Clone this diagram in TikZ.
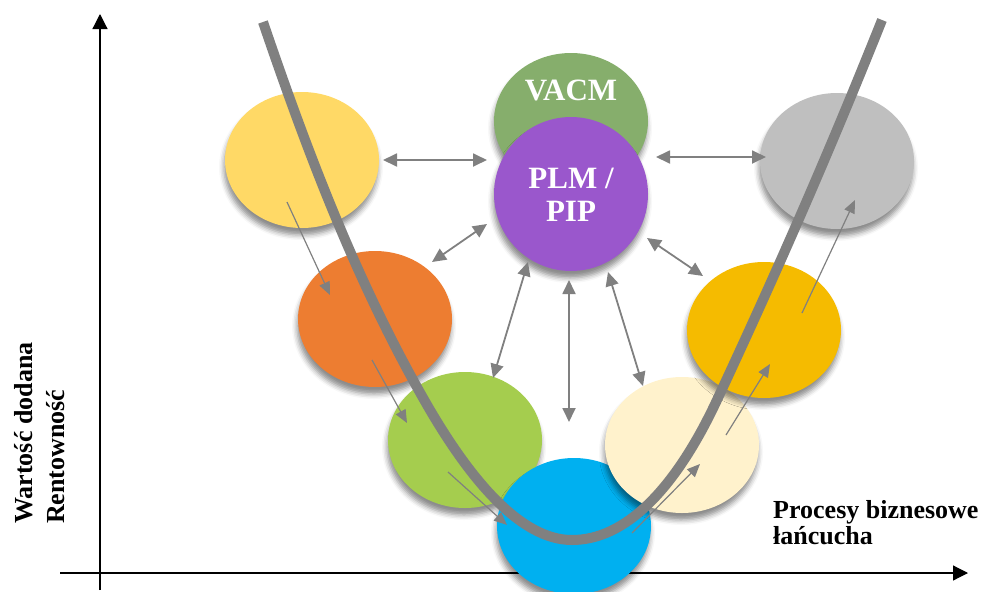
\documentclass[tikz,border=0pt]{standalone}
\usepackage{fontspec}
\setmainfont{Liberation Serif}
\usetikzlibrary{shapes.geometric,arrows.meta,shadows.blur}
\definecolor{cyel}{HTML}{FFD966}
\definecolor{corg}{HTML}{ED7D31}
\definecolor{cgrn}{HTML}{A5CD4E}
\definecolor{cblu}{HTML}{00B0F0}
\definecolor{ccrm}{HTML}{FFF2CC}
\definecolor{cgld}{HTML}{F5BB00}
\definecolor{cgry}{HTML}{BFBFBF}
\definecolor{cvac}{HTML}{86AE6C}
\definecolor{cplm}{HTML}{9A57CC}
\definecolor{cline}{HTML}{808080}
\tikzset{
  ell/.style={ellipse, inner sep=0pt, outer sep=0pt, minimum width=154pt, minimum height=136pt,
    blur shadow={shadow xshift=-1pt, shadow yshift=-7pt, shadow blur radius=5pt, shadow opacity=45}},
  thinarr/.style={draw=cline, line width=1.2pt, -{Triangle[length=13pt,width=11pt]}},
  dblarr/.style={draw=cline, line width=1.8pt, {Triangle[length=14pt,width=13pt]}-{Triangle[length=14pt,width=13pt]}},
  curve/.style={draw=cline, line width=10pt},
  axis/.style={draw=black, line width=1.2pt, -{Triangle[length=15pt,width=15pt]}},
  wlab/.style={text=white, font=\bfseries\fontsize{31}{36}\selectfont, align=center},
  alab/.style={font=\bfseries\fontsize{26}{26}\selectfont, align=left}
}
\begin{document}
\begin{tikzpicture}[x=1pt,y=-1pt]
\useasboundingbox (0,0) rectangle (989,592);
% axes
\coordinate (ybot) at (100,590);
\coordinate (ytop) at (100,14);
\coordinate (xl) at (60,573);
\coordinate (xr) at (968,573);
\draw[axis] (ybot) -- (ytop);
\draw[axis] (xl) -- (xr);
% ellipses
\node[ell, fill=cyel] (yel) at (302,160) {};
\node[ell, fill=corg] (org) at (375,319) {};
\node[ell, fill=cgrn] (grn) at (465,440) {};
\node[ell, fill=cblu] (blu) at (574,526) {};
\node[ell, fill=ccrm] (crm) at (682,445) {};
\node[ell, fill=cgld] (gld) at (764,330) {};
\node[ell, fill=cgry] (gry) at (837,161) {};
\node[ell, fill=cvac] (vac) at (571,121) {};
\node[ell, fill=cplm, minimum height=154pt] (plm) at (571,194) {};
\node[wlab] (vact) at (571,90) {VACM};
\node[wlab, text depth=0pt] (plmt) at (571,195) {PLM /\\[-3pt]PIP};
% main curve
\draw[curve] (263,22) .. controls (310,160) and (360,290) .. (430,410)
  .. controls (470,478) and (520,540) .. (572,540)
  .. controls (625,540) and (675,490) .. (717,400)
  .. controls (780,265) and (830,150) .. (882,20);
% thin process arrows
\coordinate (a1s) at (287,202); \coordinate (a1e) at (330,295);
\coordinate (a2s) at (372,360); \coordinate (a2e) at (407,423);
\coordinate (a3s) at (448,472); \coordinate (a3e) at (507,525);
\coordinate (a4s) at (632,533); \coordinate (a4e) at (700,464);
\coordinate (a5s) at (726,435); \coordinate (a5e) at (770,364);
\coordinate (a6s) at (802,313); \coordinate (a6e) at (855,200);
\draw[thinarr] (a1s) -- (a1e);
\draw[thinarr] (a2s) -- (a2e);
\draw[thinarr] (a3s) -- (a3e);
\draw[thinarr] (a4s) -- (a4e);
\draw[thinarr] (a5s) -- (a5e);
\draw[thinarr] (a6s) -- (a6e);
% double arrows
\coordinate (d1a) at (383,160); \coordinate (d1b) at (487,160);
\coordinate (d2a) at (656,157); \coordinate (d2b) at (766,157);
\coordinate (d3a) at (432,262); \coordinate (d3b) at (487,224);
\coordinate (d4a) at (493,378); \coordinate (d4b) at (528,262);
\coordinate (d5a) at (569,422); \coordinate (d5b) at (569,280);
\coordinate (d6a) at (643,386); \coordinate (d6b) at (608,272);
\coordinate (d7a) at (703,276); \coordinate (d7b) at (647,238);
\draw[dblarr] (d1a) -- (d1b);
\draw[dblarr] (d2a) -- (d2b);
\draw[dblarr] (d3a) -- (d3b);
\draw[dblarr] (d4a) -- (d4b);
\draw[dblarr] (d5a) -- (d5b);
\draw[dblarr] (d6a) -- (d6b);
\draw[dblarr] (d7a) -- (d7b);
% axis labels
\node[alab, anchor=north west, inner sep=0pt] (xlab) at (773,500) {Procesy biznesowe\\łańcucha};
\node[anchor=south west, inner sep=0pt] (ylab) at (10,524)
  {\rotatebox{90}{\bfseries\fontsize{26}{32}\selectfont\begin{tabular}{@{}l@{}}Wartość dodana\\Rentowność\end{tabular}}};
\end{tikzpicture}
\end{document}
